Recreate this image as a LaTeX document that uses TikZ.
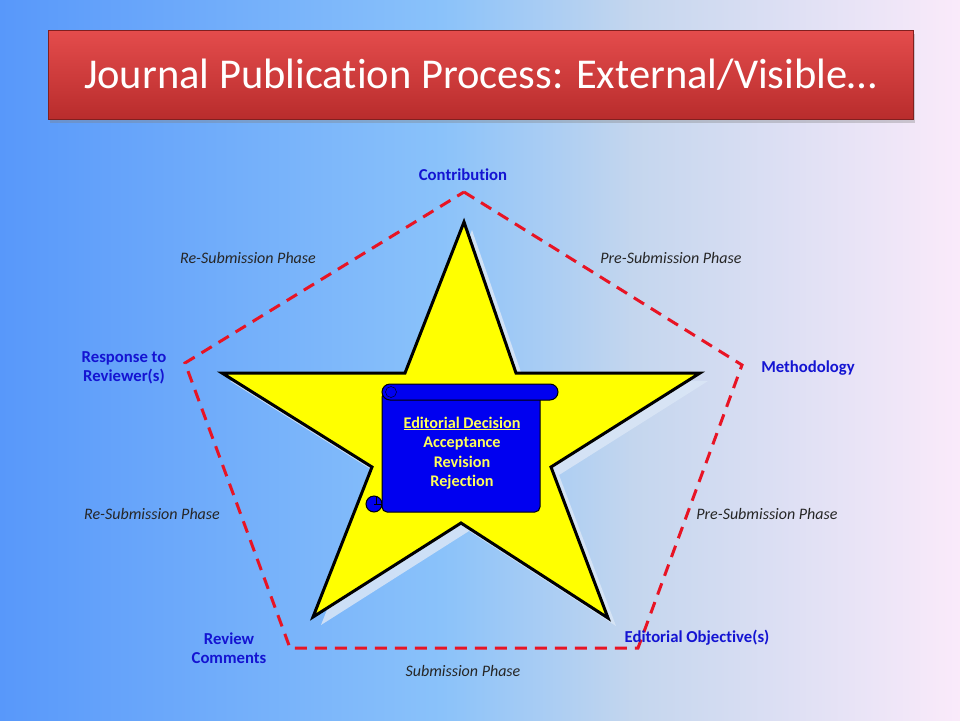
\documentclass[tikz,border=0pt]{standalone}
\usepackage{fontspec}
\setmainfont{Carlito}[Ligatures={NoCommon}]
\usetikzlibrary{shadows}
\definecolor{bgleft}{RGB}{88,152,250}
\definecolor{bgmid}{RGB}{138,194,250}
\definecolor{bgpale}{RGB}{196,214,238}
\definecolor{bgright}{RGB}{250,234,250}
\definecolor{dashred}{RGB}{232,20,36}
\definecolor{labelblue}{RGB}{20,20,210}
\definecolor{scrollblue}{RGB}{0,0,240}
\definecolor{txtyellow}{RGB}{255,255,90}
\definecolor{titletop}{RGB}{228,76,76}
\definecolor{titlebottom}{RGB}{184,44,44}
\definecolor{starglow}{RGB}{218,230,246}
\definecolor{starfill}{RGB}{255,255,0}
\pgfdeclarehorizontalshading{slidebg}{100bp}{color(0bp)=(bgleft); color(25bp)=(bgleft); color(48bp)=(bgmid); color(58bp)=(bgpale); color(75bp)=(bgright); color(100bp)=(bgright)}
\tikzset{
  titlebar/.style = {
    draw=titlebottom!70!black, top color=titletop, bottom color=titlebottom,
    minimum width=865pt, minimum height=89pt, text=white,
    font=\fontsize{42.5}{48}\selectfont,
    drop shadow={shadow xshift=2pt, shadow yshift=-3pt, opacity=0.35}
  },
  pentagon/.style = {dashred, line width=3pt, dash pattern=on 12pt off 8pt},
  starpath/.style = {insert path={(464,222) -- (516,373) -- (700,373) -- (551,467)
    -- (608,618) -- (461,523) -- (313,617) -- (372,467) -- (222,373) -- (405,373) -- cycle}},
  scrollpart/.style = {fill=scrollblue, draw=black, line width=1pt},
  cornerlabel/.style = {text=labelblue, align=center, font=\fontsize{16.7}{19}\selectfont\bfseries},
  phase/.style = {text=black!85, font=\fontsize{16}{18}\selectfont\itshape}
}

\begin{document}
\begin{tikzpicture}[x=1pt,y=-1pt]
  \useasboundingbox (0,0) rectangle (960,720);
  \shade[shading=slidebg] (0,0) rectangle (960,720);
  \node[titlebar] (title) at (480.5,75) {Journal Publication Process: External/Visible…};

  \coordinate (contrib) at (464,192);
  \coordinate (method) at (742,365);
  \coordinate (edobj) at (638,648);
  \coordinate (review) at (290,648);
  \coordinate (respond) at (185,363);
  \draw[pentagon] (contrib) -- (method) -- (edobj) -- (review) -- (respond) -- cycle;

  \fill[starglow, opacity=0.85, shift={(8,8)}, starpath];
  \draw[fill=starfill, line width=3pt, line join=miter, starpath];

  \draw[scrollpart] (374,504) circle (8);
  \draw[scrollpart, rounded corners=5pt] (382,392) rectangle (540,512);
  \draw[scrollpart, rounded corners=8pt] (382,384) rectangle (558,400);
  \draw[thin] (391,392) circle (5.5);
  \draw[thin] (374,504) -- (382,504) (376,497) -- (376,504);
  \node[text=txtyellow, align=center, font=\fontsize{16.2}{19.5}\selectfont\bfseries] (decision) at (462,453)
    {\underline{Editorial Decision}\\Acceptance\\Revision\\Rejection};

  \node[cornerlabel] (contriblbl) at (463,175) {Contribution};
  \node[cornerlabel] (methodlbl) at (808,368) {Methodology};
  \node[cornerlabel] (edobjlbl) at (697,638) {Editorial Objective(s)};
  \node[cornerlabel] (reviewlbl) at (229,648) {Review\\Comments};
  \node[cornerlabel] (respondlbl) at (124,368) {Response to\\Reviewer(s)};

  \node[phase] (resubtop) at (248,258) {Re-Submission Phase};
  \node[phase] (presubtop) at (671,258) {Pre-Submission Phase};
  \node[phase] (resubbot) at (152,514) {Re-Submission Phase};
  \node[phase] (presubbot) at (767,514) {Pre-Submission Phase};
  \node[phase] (submission) at (463,671) {Submission Phase};
\end{tikzpicture}
\end{document}
